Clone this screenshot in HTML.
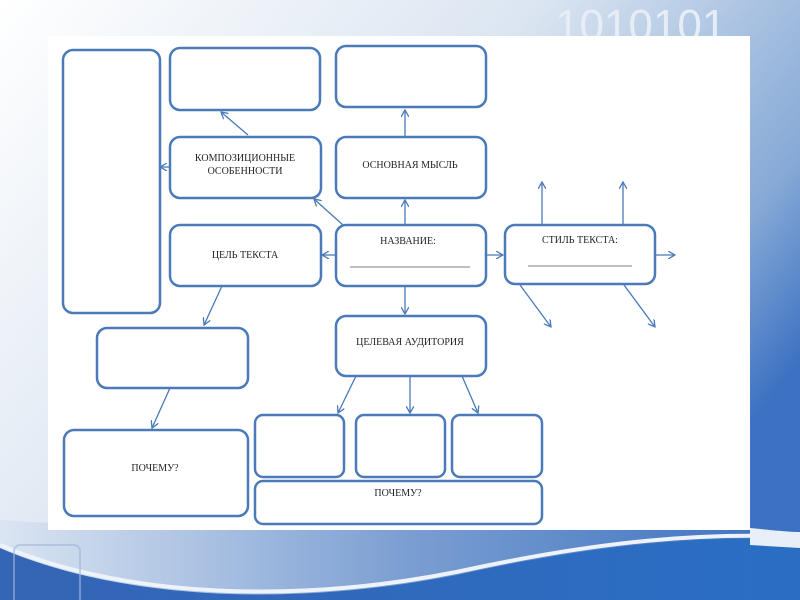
<!DOCTYPE html>
<html><head><meta charset="utf-8"><style>
body{margin:0;width:800px;height:600px;overflow:hidden}
svg{display:block}
text{font-family:"Liberation Serif",serif;font-size:10px;fill:#222}
</style></head><body>
<svg width="800" height="600" viewBox="0 0 800 600">
<defs>
<linearGradient id="bg" x1="0" y1="0" x2="1" y2="0.6">
<stop offset="0" stop-color="#ffffff"/><stop offset="0.5" stop-color="#dbe5f1"/><stop offset="0.85" stop-color="#86a9d6"/><stop offset="1" stop-color="#3d72c2"/>
</linearGradient>
<linearGradient id="wave" x1="0" y1="0" x2="1" y2="0">
<stop offset="0" stop-color="#dbe5f2"/><stop offset="0.5" stop-color="#7c9fd2"/><stop offset="1" stop-color="#3a70c0"/>
</linearGradient>
<linearGradient id="deep" x1="0" y1="0" x2="1" y2="0">
<stop offset="0" stop-color="#3565b5"/><stop offset="1" stop-color="#2a6ec4"/>
</linearGradient>
<marker id="a" markerWidth="8" markerHeight="8" refX="7" refY="4" orient="auto" markerUnits="userSpaceOnUse">
<path d="M0,0 L7,4 L0,8" fill="none" stroke="#4a7ab8" stroke-width="1.3"/></marker>
</defs>
<rect width="800" height="600" fill="url(#bg)"/>
<path d="M0,520 C150,530 300,528 500,530 L800,530 L800,600 L0,600Z" fill="url(#wave)"/>
<path d="M0,548 C120,600 300,610 480,570 C600,545 700,535 800,540 L800,600 L0,600Z" fill="url(#deep)"/>
<path d="M0,545 C120,597 300,607 480,567 C600,542 700,532 800,537" fill="none" stroke="#eef3fa" stroke-width="4"/>
<path d="M750,528 C770,530 790,532 800,532 L800,548 L750,545Z" fill="#e8eff8"/>
<rect x="14" y="545" width="66" height="60" rx="6" fill="none" stroke="#9fb8dc" stroke-width="2" opacity="0.6"/>
<text x="555" y="40" style="font-size:44px;fill:#e6edf6;font-family:'Liberation Sans',sans-serif">1010101</text>
<rect x="48" y="36" width="702" height="494" fill="#fff"/>
<g fill="none" stroke="#4a7ab8" stroke-width="2.5">
<rect x="63" y="50" width="97" height="263" rx="10"/>
<rect x="170" y="48" width="150" height="62" rx="10"/>
<rect x="336" y="46" width="150" height="61" rx="10"/>
<rect x="170" y="137" width="151" height="61" rx="10"/>
<rect x="336" y="137" width="150" height="61" rx="10"/>
<rect x="170" y="225" width="151" height="61" rx="10"/>
<rect x="336" y="225" width="150" height="61" rx="10"/>
<rect x="505" y="225" width="150" height="59" rx="10"/>
<rect x="97" y="328" width="151" height="60" rx="10"/>
<rect x="336" y="316" width="150" height="60" rx="10"/>
<rect x="64" y="430" width="184" height="86" rx="10"/>
<rect x="255" y="415" width="89" height="62" rx="8"/>
<rect x="356" y="415" width="89" height="62" rx="8"/>
<rect x="452" y="415" width="90" height="62" rx="8"/>
<rect x="255" y="481" width="287" height="43" rx="8"/>
</g>
<g stroke="#4a7ab8" stroke-width="1.3" fill="none" marker-end="url(#a)">
<line x1="248" y1="135" x2="221" y2="112"/>
<line x1="405" y1="137" x2="405" y2="110"/>
<line x1="170" y1="167" x2="160" y2="167"/>
<line x1="343" y1="225" x2="314" y2="199"/>
<line x1="405" y1="225" x2="405" y2="200"/>
<line x1="336" y1="255" x2="322" y2="255"/>
<line x1="486" y1="255" x2="503" y2="255"/>
<line x1="655" y1="255" x2="675" y2="255"/>
<line x1="542" y1="225" x2="542" y2="182"/>
<line x1="623" y1="225" x2="623" y2="182"/>
<line x1="520" y1="285" x2="551" y2="327"/>
<line x1="624" y1="285" x2="655" y2="327"/>
<line x1="405" y1="286" x2="405" y2="314"/>
<line x1="222" y1="286" x2="204" y2="325"/>
<line x1="170" y1="388" x2="152" y2="428"/>
<line x1="356" y1="376" x2="338" y2="413"/>
<line x1="410" y1="376" x2="410" y2="413"/>
<line x1="462" y1="376" x2="478" y2="413"/>
</g>
<g stroke="#555" stroke-width="0.8">
<line x1="350" y1="267" x2="470" y2="267"/>
<line x1="528" y1="266" x2="632" y2="266"/>
</g>
<g text-anchor="middle">
<text x="245" y="161">КОМПОЗИЦИОННЫЕ</text>
<text x="245" y="174">ОСОБЕННОСТИ</text>
<text x="410" y="168">ОСНОВНАЯ МЫСЛЬ</text>
<text x="245" y="258">ЦЕЛЬ ТЕКСТА</text>
<text x="408" y="244">НАЗВАНИЕ:</text>
<text x="580" y="243">СТИЛЬ ТЕКСТА:</text>
<text x="410" y="345">ЦЕЛЕВАЯ АУДИТОРИЯ</text>
<text x="155" y="471">ПОЧЕМУ?</text>
<text x="398" y="496">ПОЧЕМУ?</text>
</g>
</svg>
</body></html>
